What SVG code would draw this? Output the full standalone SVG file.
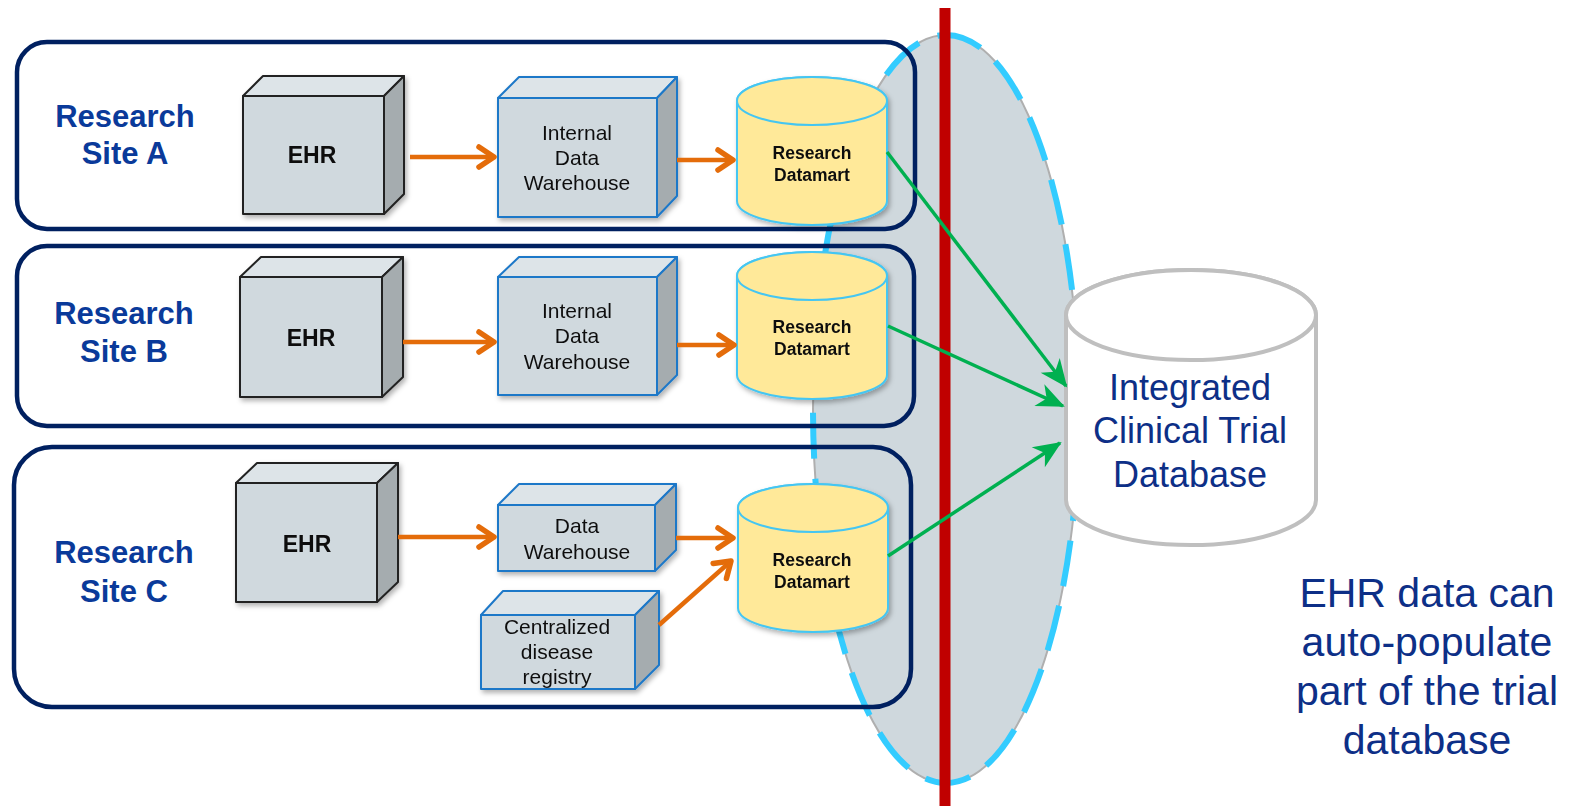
<svg xmlns="http://www.w3.org/2000/svg" width="1579" height="806" viewBox="0 0 1579 806">
<defs>
<style>
.site{fill:none;stroke:#002060;stroke-width:4.5}
.lbl{font-family:"Liberation Sans",Arial,sans-serif;font-weight:bold;font-size:31px;fill:#0A3A9A;text-anchor:middle}
.ehr-f{fill:#D0D9DE;stroke:#222;stroke-width:2;stroke-linejoin:round}
.ehr-t{fill:#DDE4E8;stroke:#222;stroke-width:2;stroke-linejoin:round}
.ehr-r{fill:#A5ACAF;stroke:#222;stroke-width:2;stroke-linejoin:round}
.dw-f{fill:#D0D9DE;stroke:#1E78C8;stroke-width:2;stroke-linejoin:round}
.dw-t{fill:#DDE4E8;stroke:#1E78C8;stroke-width:2;stroke-linejoin:round}
.dw-r{fill:#A5ACAF;stroke:#1E78C8;stroke-width:2;stroke-linejoin:round}
.bt{font-family:"Liberation Sans",Arial,sans-serif;font-weight:bold;font-size:23px;fill:#111;text-anchor:middle}
.nt{font-family:"Liberation Sans",Arial,sans-serif;font-size:21px;fill:#111;text-anchor:middle}
.cyl{fill:#FFE999;stroke:#45C6F2;stroke-width:2}
.dmt{font-family:"Liberation Sans",Arial,sans-serif;font-weight:bold;font-size:17.5px;fill:#111;text-anchor:middle}
.db{fill:#FFFFFF;stroke:#BFBFBF;stroke-width:4}
.dbt{font-family:"Liberation Sans",Arial,sans-serif;font-size:36px;fill:#0D2F87;text-anchor:middle}
.note{font-family:"Liberation Sans",Arial,sans-serif;font-size:41px;fill:#0D2F87;text-anchor:middle}
.oa{fill:none;stroke:#E46C0A;stroke-width:4.5;marker-end:url(#oarr)}
.ga{fill:none;stroke:#00B050;stroke-width:3.5;marker-end:url(#garr)}
</style>
<marker id="oarr" viewBox="-22 -15 28 30" refX="0" refY="0" markerWidth="28" markerHeight="30" markerUnits="userSpaceOnUse" orient="auto" overflow="visible">
<path d="M-15,-10 L0,0 L-15,10" fill="none" stroke="#E46C0A" stroke-width="5.5" stroke-linecap="round" stroke-linejoin="round"/>
</marker>
<marker id="garr" viewBox="-30 -15 34 30" refX="0" refY="0" markerWidth="34" markerHeight="30" markerUnits="userSpaceOnUse" orient="auto" overflow="visible">
<path d="M2,0 L-26,-12 L-18,0 L-26,12 Z" fill="#00B050"/>
</marker>
<filter id="sh" x="-20%" y="-20%" width="140%" height="140%">
<feDropShadow dx="2" dy="3" stdDeviation="2.5" flood-color="#000" flood-opacity="0.3"/>
</filter>
</defs>
<rect width="1579" height="806" fill="#FFFFFF"/>

<g id="boundary">
<ellipse cx="946" cy="409" rx="133" ry="374" fill="#CFD8DD" stroke="#AFAFAF" stroke-width="2"/>
<ellipse cx="946" cy="409" rx="133" ry="374" fill="none" stroke="#33CCFF" stroke-width="6" stroke-dasharray="46 20"/>
</g>

<g id="site-a">
<rect class="site" x="17" y="42" width="898" height="187" rx="30"/>
<text class="lbl" x="125" y="127">Research</text>
<text class="lbl" x="125" y="164">Site A</text>
</g>
<g id="site-b">
<rect class="site" x="17" y="246" width="897" height="180" rx="30"/>
<text class="lbl" x="124" y="324">Research</text>
<text class="lbl" x="124" y="362">Site B</text>
</g>
<g id="site-c">
<rect class="site" x="14" y="447" width="897" height="260" rx="38"/>
<text class="lbl" x="124" y="563">Research</text>
<text class="lbl" x="124" y="602">Site C</text>
</g>

<g id="ehr-a" filter="url(#sh)">
<rect class="ehr-f" x="243" y="96" width="141" height="118"/>
<path class="ehr-t" d="M243,96 L263,76 L404,76 L384,96 Z"/>
<path class="ehr-r" d="M384,96 L404,76 L404,194 L384,214 Z"/>
<text class="bt" x="312" y="163">EHR</text>
</g>
<g id="ehr-b" filter="url(#sh)">
<rect class="ehr-f" x="240" y="277" width="142" height="120"/>
<path class="ehr-t" d="M240,277 L261,257 L403,257 L382,277 Z"/>
<path class="ehr-r" d="M382,277 L403,257 L403,377 L382,397 Z"/>
<text class="bt" x="311" y="346">EHR</text>
</g>
<g id="ehr-c" filter="url(#sh)">
<rect class="ehr-f" x="236" y="483" width="141" height="119"/>
<path class="ehr-t" d="M236,483 L257,463 L398,463 L377,483 Z"/>
<path class="ehr-r" d="M377,483 L398,463 L398,582 L377,602 Z"/>
<text class="bt" x="307" y="552">EHR</text>
</g>

<g id="idw-a" filter="url(#sh)">
<rect class="dw-f" x="498" y="98" width="159" height="119"/>
<path class="dw-t" d="M498,98 L519,77 L677,77 L657,98 Z"/>
<path class="dw-r" d="M657,98 L677,77 L677,196 L657,217 Z"/>
<text class="nt" x="577" y="140">Internal</text>
<text class="nt" x="577" y="165">Data</text>
<text class="nt" x="577" y="190">Warehouse</text>
</g>
<g id="idw-b" filter="url(#sh)">
<rect class="dw-f" x="498" y="277" width="159" height="118"/>
<path class="dw-t" d="M498,277 L519,257 L677,257 L657,277 Z"/>
<path class="dw-r" d="M657,277 L677,257 L677,375 L657,395 Z"/>
<text class="nt" x="577" y="318">Internal</text>
<text class="nt" x="577" y="343">Data</text>
<text class="nt" x="577" y="369">Warehouse</text>
</g>
<g id="dw-c" filter="url(#sh)">
<rect class="dw-f" x="498" y="505" width="157" height="66"/>
<path class="dw-t" d="M498,505 L519,484 L676,484 L655,505 Z"/>
<path class="dw-r" d="M655,505 L676,484 L676,550 L655,571 Z"/>
<text class="nt" x="577" y="533">Data</text>
<text class="nt" x="577" y="559">Warehouse</text>
</g>
<g id="registry-c" filter="url(#sh)">
<rect class="dw-f" x="481" y="615" width="154" height="74"/>
<path class="dw-t" d="M481,615 L503,591 L659,591 L635,615 Z"/>
<path class="dw-r" d="M635,615 L659,591 L659,665 L635,689 Z"/>
<text class="nt" x="557" y="634">Centralized</text>
<text class="nt" x="557" y="659">disease</text>
<text class="nt" x="557" y="684">registry</text>
</g>

<g id="datamart-a" filter="url(#sh)">
<path class="cyl" d="M737,101 L737,201 A75,24 0 0 0 887,201 L887,101 A75,24 0 0 0 737,101 Z"/>
<ellipse class="cyl" cx="812" cy="101" rx="75" ry="24"/>
<text class="dmt" x="812" y="159">Research</text>
<text class="dmt" x="812" y="181">Datamart</text>
</g>
<g id="datamart-b" filter="url(#sh)">
<path class="cyl" d="M737,276 L737,375 A75,24 0 0 0 887,375 L887,276 A75,24 0 0 0 737,276 Z"/>
<ellipse class="cyl" cx="812" cy="276" rx="75" ry="24"/>
<text class="dmt" x="812" y="333">Research</text>
<text class="dmt" x="812" y="355">Datamart</text>
</g>
<g id="datamart-c" filter="url(#sh)">
<path class="cyl" d="M738,508 L738,608 A75,24 0 0 0 888,608 L888,508 A75,24 0 0 0 738,508 Z"/>
<ellipse class="cyl" cx="813" cy="508" rx="75" ry="24"/>
<text class="dmt" x="812" y="566">Research</text>
<text class="dmt" x="812" y="588">Datamart</text>
</g>

<g id="divider">
<rect x="939.5" y="8" width="11" height="798" fill="#C00000"/>
</g>

<g id="integrated-db">
<path class="db" d="M1066,315 L1066,500 A125,45 0 0 0 1316,500 L1316,315 A125,45 0 0 0 1066,315 Z"/>
<ellipse class="db" cx="1191" cy="315" rx="125" ry="45"/>
<text class="dbt" x="1190" y="400">Integrated</text>
<text class="dbt" x="1190" y="443">Clinical Trial</text>
<text class="dbt" x="1190" y="487">Database</text>
</g>

<g id="connectors">
<line class="oa" x1="410" y1="157" x2="494" y2="157"/>
<line class="oa" x1="677" y1="160" x2="733" y2="160"/>
<line class="oa" x1="403" y1="342" x2="494" y2="342"/>
<line class="oa" x1="677" y1="345" x2="734" y2="345"/>
<line class="oa" x1="398" y1="537" x2="494" y2="537"/>
<line class="oa" x1="676" y1="538" x2="733" y2="538"/>
<line class="oa" x1="659" y1="625" x2="731" y2="561"/>
<line class="ga" x1="887" y1="152" x2="1066" y2="386"/>
<line class="ga" x1="888" y1="326" x2="1063" y2="406"/>
<line class="ga" x1="888" y1="556" x2="1060" y2="443"/>
</g>

<g id="note">
<text class="note" x="1427" y="607">EHR data can</text>
<text class="note" x="1427" y="656">auto-populate</text>
<text class="note" x="1427" y="705">part of the trial</text>
<text class="note" x="1427" y="754">database</text>
</g>
</svg>
